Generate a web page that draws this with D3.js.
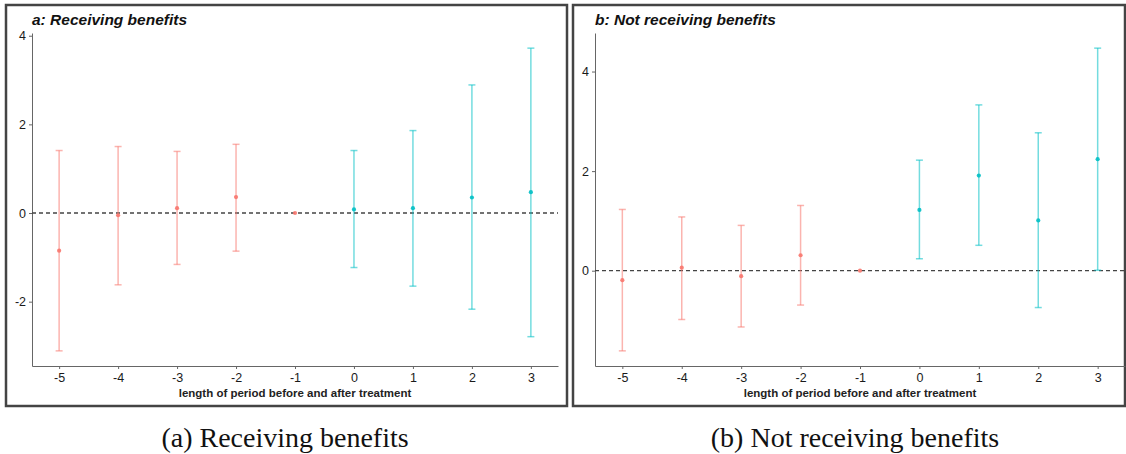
<!DOCTYPE html>
<html lang="en">
<head>
<meta charset="UTF-8">
<title>Event study: receiving vs not receiving benefits</title>
<script src="https://d3js.org/d3.v7.min.js"></script>
<style>
  body { margin: 0; background: #fff; }
  svg { display: block; }
  .tick text { font-family: "Liberation Sans", Arial, sans-serif; font-size: 12.5px; fill: #1a1a1a; }
  .axis path, .axis line { stroke: #666; }
</style>
</head>
<body>
<svg id="chart" width="1126" height="454"></svg>
<script>
// periods relative to treatment
const periods = [-5, -4, -3, -2, -1, 0, 1, 2, 3];

// panel a: receiving benefits
const aEst  = [-0.85, -0.05, 0.11, 0.36, 0, 0.08, 0.11, 0.35, 0.47];
const aLow  = [-3.11, -1.62, -1.16, -0.86, 0, -1.23, -1.65, -2.17, -2.79];
const aHigh = [1.41, 1.50, 1.39, 1.55, 0, 1.41, 1.86, 2.89, 3.72];
const aTicks = [-2, 0, 2, 4];

// panel b: not receiving benefits
const bEst  = [-0.19, 0.06, -0.11, 0.31, 0, 1.22, 1.91, 1.01, 2.24];
const bLow  = [-1.61, -0.98, -1.13, -0.69, 0, 0.24, 0.51, -0.74, 0.01];
const bHigh = [1.23, 1.08, 0.91, 1.31, 0, 2.22, 3.33, 2.77, 4.47];
const bTicks = [0, 2, 4];

const xTitle = "length of period before and after treatment";

const svg = d3.select("#chart");
const red = "#F8766D", teal = "#00BFC4";
const fmt = d => String(d);   // plain hyphen minus, like the original

function drawPanel(opt) {
  const { box, plot, est, low, high, ticks, title, caption, capX } = opt;

  // frame around the panel
  svg.append("rect")
    .attr("x", box[0]).attr("y", box[1])
    .attr("width", box[2] - box[0]).attr("height", box[3] - box[1])
    .attr("fill", "none").attr("stroke", "#444").attr("stroke-width", 2.5);

  const rows = periods.map((p, i) => ({ p, est: est[i], low: low[i], high: high[i] }));
  const lo = d3.min(low), hi = d3.max(high), pad = (hi - lo) * 0.05;

  const x = d3.scaleLinear().domain([-5.46, 3.46]).range([plot.left, plot.right]);
  const y = d3.scaleLinear().domain([lo - pad, hi + pad]).range([plot.bottom, plot.top]);

  const g = svg.append("g");

  g.append("g").attr("class", "axis")
    .attr("transform", `translate(0,${plot.bottom})`)
    .call(d3.axisBottom(x).tickValues(periods).tickFormat(fmt).tickSize(3).tickSizeOuter(0).tickPadding(4));

  g.append("g").attr("class", "axis")
    .attr("transform", `translate(${plot.left},0)`)
    .call(d3.axisLeft(y).tickValues(ticks).tickFormat(fmt).tickSize(3).tickSizeOuter(0).tickPadding(3));

  // reference line at zero
  g.append("line")
    .attr("x1", plot.left).attr("x2", plot.right)
    .attr("y1", y(0)).attr("y2", y(0))
    .attr("stroke", "#444").attr("stroke-width", 1.3)
    .attr("stroke-dasharray", "4,3");

  const col = d => d.p < 0 ? red : teal;
  const bars = rows.filter(d => d.high !== d.low);

  const eb = g.selectAll(".eb").data(bars).join("g")
    .attr("stroke", col).attr("stroke-opacity", 0.55).attr("stroke-width", 1.5);
  eb.append("line")
    .attr("x1", d => x(d.p)).attr("x2", d => x(d.p))
    .attr("y1", d => y(d.low)).attr("y2", d => y(d.high));
  eb.append("line")
    .attr("x1", d => x(d.p) - 3.5).attr("x2", d => x(d.p) + 3.5)
    .attr("y1", d => y(d.low)).attr("y2", d => y(d.low));
  eb.append("line")
    .attr("x1", d => x(d.p) - 3.5).attr("x2", d => x(d.p) + 3.5)
    .attr("y1", d => y(d.high)).attr("y2", d => y(d.high));

  g.selectAll(".pt").data(rows).join("circle")
    .attr("cx", d => x(d.p)).attr("cy", d => y(d.est))
    .attr("r", 2.1).attr("fill", col).attr("opacity", 0.9);

  // panel title
  g.append("text")
    .attr("x", plot.left).attr("y", 25)
    .attr("font-family", "Liberation Sans, Arial, sans-serif")
    .attr("font-size", 15.5).attr("font-weight", "bold").attr("font-style", "italic")
    .attr("fill", "#111")
    .text(title);

  // x axis title
  g.append("text")
    .attr("x", (plot.left + plot.right) / 2).attr("y", 397)
    .attr("text-anchor", "middle")
    .attr("font-family", "Liberation Sans, Arial, sans-serif")
    .attr("font-size", 11.5).attr("font-weight", "bold")
    .attr("fill", "#222")
    .text(xTitle);

  // caption below the frame
  svg.append("text")
    .attr("x", capX).attr("y", 447)
    .attr("text-anchor", "middle")
    .attr("font-family", "Liberation Serif, Times New Roman, serif")
    .attr("font-size", 28).attr("fill", "#111")
    .text(caption);
}

drawPanel({
  box: [6, 5, 567, 406],
  plot: { left: 32, right: 558, top: 33, bottom: 366 },
  est: aEst, low: aLow, high: aHigh, ticks: aTicks,
  title: "a: Receiving benefits",
  caption: "(a) Receiving benefits", capX: 285
});

drawPanel({
  box: [573, 5, 1125, 406],
  plot: { left: 595, right: 1125, top: 33, bottom: 366 },
  est: bEst, low: bLow, high: bHigh, ticks: bTicks,
  title: "b: Not receiving benefits",
  caption: "(b) Not receiving benefits", capX: 855
});
</script>
</body>
</html>
